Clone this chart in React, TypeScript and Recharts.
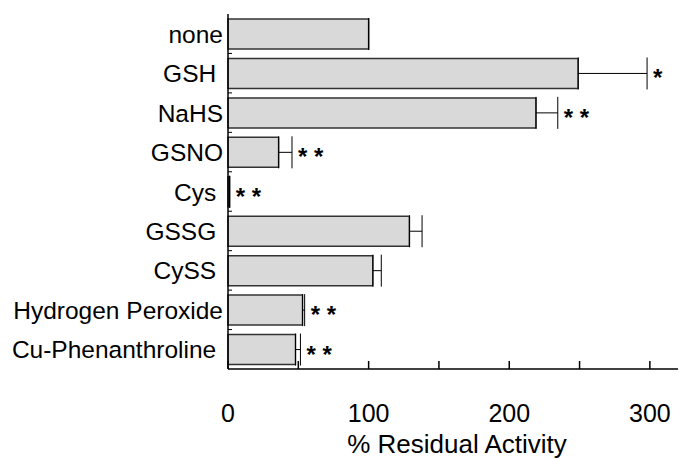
import {
  Bar,
  BarChart,
  ErrorBar,
  LabelList,
  XAxis,
  YAxis,
} from "recharts";

const treatments = [
  "none",
  "GSH",
  "NaHS",
  "GSNO",
  "Cys",
  "GSSG",
  "CySS",
  "Hydrogen Peroxide",
  "Cu-Phenanthroline",
];
const activity = [100, 249, 219, 36, 1, 129, 103, 53, 48];
const errors = [0, 49, 15.5, 9.5, 0.3, 9, 6, 1.5, 3.5];
const stars = ["", "*", "* *", "* *", "* *", "", "", "* *", "* *"];
// the original labels have a trailing blank on some rows
const padded = [false, true, false, false, true, true, true, false, true];
const xTicks = [0, 50, 100, 150, 200, 250, 300];

const FONT = "'Liberation Sans', Arial, sans-serif";

const data = treatments.map((name, i) => ({
  name,
  activity: activity[i],
  err: [0, errors[i]],
  sig: stars[i],
}));

function StarLabel(props: any) {
  const { x, y, width, height, index } = props;
  const label = stars[index];
  if (!label) return null;
  const v = activity[index];
  const perUnit = width / v;
  const capX = x + (v + errors[index]) * perUnit;
  return (
    <text
      x={capX + 6}
      y={y + height / 2 + 13}
      fontFamily={FONT}
      fontSize={24}
      fontWeight="bold"
      fill="#000"
    >
      {label}
    </text>
  );
}

// inside tick marks every 50, labels every 100
function XTick(props: any) {
  const { x, y, payload } = props;
  const v = payload.value;
  return (
    <g>
      <line x1={x} x2={x} y1={y} y2={y - 8} stroke="#000" strokeWidth={1.5} />
      {v % 100 === 0 && (
        <text
          x={x}
          y={y + 53}
          textAnchor="middle"
          fontFamily={FONT}
          fontSize={25}
          fill="#000"
        >
          {v}
        </text>
      )}
    </g>
  );
}

// category label plus a short inside mark at the band boundary
function YTick(props: any) {
  const { x, y, payload, index } = props;
  const half = payload.offset ?? 19.7;
  const i = index ?? treatments.indexOf(payload.value);
  return (
    <g>
      {i > 0 && (
        <line
          x1={x}
          x2={x + 4}
          y1={y - half}
          y2={y - half}
          stroke="#000"
          strokeWidth={1}
        />
      )}
      <text
        x={x - 5}
        y={y + 9}
        textAnchor="end"
        fontFamily={FONT}
        fontSize={24.5}
        fill="#000"
      >
        {padded[i] ? payload.value + "\u00a0" : payload.value}
      </text>
    </g>
  );
}

export default function App() {
  return (
    <div style={{ position: "absolute", left: 0, top: 0 }}>
      <BarChart
        width={680}
        height={459}
        data={data}
        layout="vertical"
        margin={{ top: 14, right: 2, bottom: 0, left: 0 }}
        barSize={30}
      >
        <XAxis
          type="number"
          domain={[0, 320]}
          ticks={xTicks}
          height={90}
          stroke="#000"
          strokeWidth={1.5}
          tickLine={false}
          tickSize={0}
          tickMargin={0}
          tick={XTick}
          label={{
            value: "% Residual Activity",
            position: "insideBottom",
            offset: 6,
            dx: 4,
            style: { fontFamily: FONT, fontSize: 26, fill: "#000" },
          }}
        />
        <XAxis
          xAxisId="top"
          orientation="top"
          type="number"
          domain={[0, 320]}
          height={0}
          tick={false}
          tickLine={false}
          stroke="#000"
          strokeWidth={1.5}
        />
        <YAxis
          type="category"
          dataKey="name"
          width={228}
          stroke="#000"
          strokeWidth={1.5}
          tickLine={false}
          tickSize={0}
          tickMargin={0}
          interval={0}
          tick={YTick}
        />
        <Bar
          dataKey="activity"
          fill="#d9d9d9"
          stroke="#333"
          strokeWidth={1.5}
          isAnimationActive={false}
        >
          <ErrorBar
            dataKey="err"
            direction="x"
            width={16}
            stroke="#000"
            strokeWidth={1}
            isAnimationActive={false}
          />
          <LabelList dataKey="sig" content={StarLabel} />
        </Bar>
      </BarChart>
    </div>
  );
}
